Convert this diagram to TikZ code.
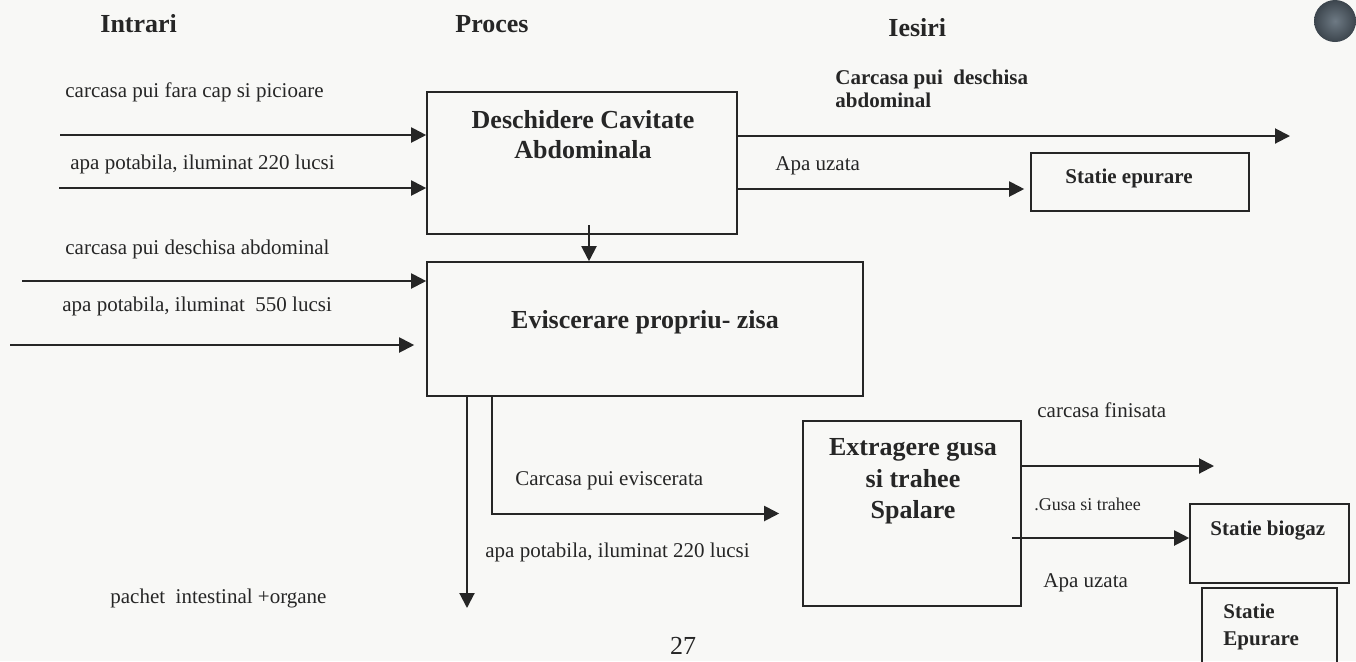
\documentclass[tikz,border=0pt]{standalone}
\usepackage{fontspec}
\setmainfont{Liberation Serif}
\usetikzlibrary{arrows.meta}
\definecolor{ink}{HTML}{262626}
\definecolor{paper}{HTML}{F8F8F6}
\definecolor{holein}{HTML}{6E7A84}
\definecolor{holeout}{HTML}{3C454D}
\tikzset{
  flow/.style={draw=ink, line width=1pt, -{Triangle[length=7.5pt,width=7.5pt]}},
  pbox/.style={draw=ink, line width=0.8pt, inner sep=0pt, anchor=center},
  lbl/.style={text=ink, font=\fontsize{10.5}{12}\selectfont, inner sep=0pt, anchor=base west},
  small/.style={text=ink, font=\fontsize{9}{11}\selectfont, inner sep=0pt, anchor=base west},
  head/.style={text=ink, font=\bfseries\fontsize{13}{15}\selectfont, inner sep=0pt, anchor=base west},
  ptext/.style={text=ink, font=\bfseries\fontsize{13}{15}\selectfont, inner sep=0pt, anchor=base},
  stext/.style={text=ink, font=\bfseries\fontsize{10.5}{12}\selectfont, inner sep=0pt, anchor=base west}
}
\begin{document}
\begin{tikzpicture}[x=0.5pt,y=-0.5pt]
\useasboundingbox (0,0) rectangle (1356,661);
\clip (0,0) rectangle (1356,661);
\fill[paper] (0,0) rectangle (1356,661);

% punched hole
\node[circle, inner sep=0pt, minimum size=21pt, inner color=holein, outer color=holeout] (hole) at (1335,21) {};

% column headings
\node[head] (hin) at (100,32) {Intrari};
\node[head] (hpr) at (455,32) {Proces};
\node[head] (hout) at (888,36) {Iesiri};

% process boxes
\node[pbox, minimum width=155pt, minimum height=71pt] (b1) at (582,163) {};
\node[pbox, minimum width=218pt, minimum height=67pt] (b2) at (645,329) {};
\node[pbox, minimum width=109pt, minimum height=92.5pt] (b3) at (912,513.5) {};
\node[pbox, minimum width=109pt, minimum height=29pt] (ep1) at (1140,182) {};
\node[pbox, minimum width=79.5pt, minimum height=39.5pt] (bg) at (1269.5,543.5) {};
\node[pbox, minimum width=67.5pt, minimum height=56pt] (ep2) at (1269.5,644) {};

% box texts
\node[ptext] (t1a) at (583,128) {Deschidere Cavitate};
\node[ptext] (t1b) at (583,158) {Abdominala};
\node[ptext] (t2) at (645,328) {Eviscerare propriu- zisa};
\node[ptext] (t3a) at (913,455) {Extragere gusa};
\node[ptext] (t3b) at (913,487) {si trahee};
\node[ptext] (t3c) at (913,518) {Spalare};
\node[stext] (tep1) at (1065,183) {Statie epurare};
\node[stext] (tbg) at (1210,535) {Statie biogaz};
\node[stext] (tep2a) at (1223,618) {Statie};
\node[stext] (tep2b) at (1223,645) {Epurare};

% input labels
\node[lbl] (l1) at (65,97) {carcasa pui fara cap si picioare};
\node[lbl] (l2) at (70,169) {apa potabila, iluminat 220 lucsi};
\node[lbl] (l3) at (65,254) {carcasa pui deschisa abdominal};
\node[lbl] (l4) at (62,311) {apa potabila, iluminat\ \ 550 lucsi};
\node[lbl] (l5) at (515,485) {Carcasa pui eviscerata};
\node[lbl] (l6) at (485,557) {apa potabila, iluminat 220 lucsi};
\node[lbl] (l7) at (110,603) {pachet\ \ intestinal +organe};

% output labels
\node[stext] (o1a) at (835,84) {Carcasa pui\ \ deschisa};
\node[stext] (o1b) at (835,107) {abdominal};
\node[lbl] (o2) at (775,170) {Apa uzata};
\node[lbl] (o3) at (1037,417) {carcasa finisata};
\node[small] (o4) at (1034,510) {.Gusa si trahee};
\node[lbl] (o5) at (1043,587) {Apa uzata};

% page number
\node[text=ink, font=\fontsize{13}{15}\selectfont, inner sep=0pt, anchor=base] (pg) at (683,654) {27};

% free ends of the connectors
\coordinate (s1) at (60,135);
\coordinate (s2) at (59,188);
\coordinate (s3) at (22,281);
\coordinate (s4) at (10,345);
\coordinate (e1) at (1290,136);
\coordinate (e2) at (1214,466);
\coordinate (dn) at (589,225);
\coordinate (pk) at (467,608);
\coordinate (ev) at (492,0);
\coordinate (g1) at (1012,538);

% inputs
\draw[flow] (s1) -- (s1 -| b1.west);
\draw[flow] (s2) -- (s2 -| b1.west);
\draw[flow] (s3) -- (s3 -| b2.west);
\draw[flow, shorten >=6pt] (s4) -- (s4 -| b2.west);

% outputs of the first step
\draw[flow] (e1 -| b1.east) -- (e1);
\draw[flow, shorten >=3pt] (b1.east |- 0,189) -- (ep1.west |- 0,189);
\draw[flow] (dn) -- (b2.north -| dn);

% outputs of the evisceration
\draw[flow] (b2.south -| pk) -- (pk);
\draw[flow, shorten >=11.5pt] (b2.south -| ev) |- (b3.west);

% outputs of the last step
\draw[flow] (e2 -| b3.east) -- (e2);
\draw[flow] (g1) -- (g1 -| bg.west);
\end{tikzpicture}
\end{document}
